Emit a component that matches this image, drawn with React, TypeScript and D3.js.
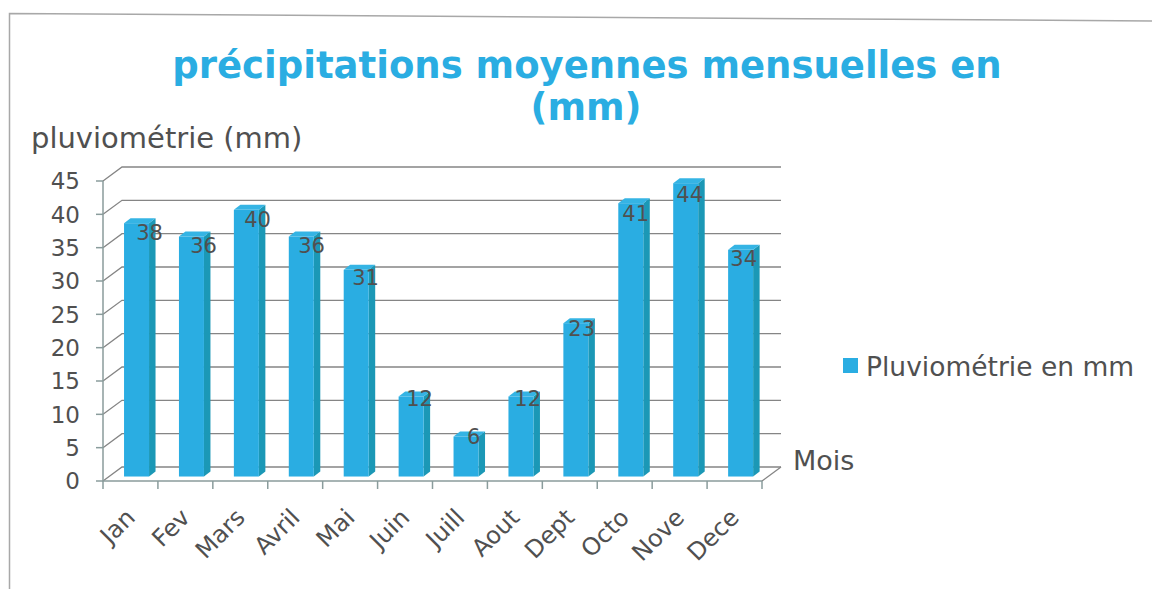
import React from "react";
import * as d3 from "d3";

const months = ["Jan", "Fev", "Mars", "Avril", "Mai", "Juin", "Juill", "Aout", "Dept", "Octo", "Nove", "Dece"];
const rainfall = [38, 36, 40, 36, 31, 12, 6, 12, 23, 41, 44, 34];
const yTicks = [0, 5, 10, 15, 20, 25, 30, 35, 40, 45];
const titleLines = ["précipitations moyennes mensuelles en", "(mm)"];
const yTitle = "pluviométrie (mm)";
const xTitle = "Mois";
const seriesName = "Pluviométrie en mm";

const W = 1152;
const H = 589;
const X0 = 103;
const X1 = 762;
const DX = 19;
const DY = -14;
const F0 = 0.32;
const BAR_W = 25;
const SDX = 6.5;
const SDY = -5;

const BLUE = "#2aade2";
const SIDE = "#1b98b6";
const TOP = "#35b4e4";
const TEXT = "#505050";
const GRID = "#858585";
const AXIS = "#8a9c9c";
const FONT = "'DejaVu Sans', Verdana, sans-serif";

export default function App() {
  const x = d3.scaleBand<string>().domain(months).range([X0, X1]).padding(0);
  const y = d3.scaleLinear().domain([0, 45]).range([481, 181]);
  const bw = x.bandwidth();

  return (
    <svg width={W} height={H} style={{ display: "block", position: "absolute", left: 0, top: 0, background: "#fff" }}>
      <rect x={0} y={0} width={W} height={H} fill="#fff" />
      {/* scanned border */}
      <path d={`M9.5,${H} L9.5,13.5 L${W},21`} fill="none" stroke="#a8a8a8" strokeWidth={1.5} />

      {/* title */}
      <g fill={BLUE} fontFamily={FONT} fontWeight="bold" fontSize={37} textAnchor="middle">
        <text x={587} y={78}>{titleLines[0]}</text>
        <text x={586} y={120}>{titleLines[1]}</text>
      </g>

      {/* y axis title */}
      <text x={31} y={148} fill={TEXT} fontFamily={FONT} fontSize={29}>{yTitle}</text>

      {/* back wall gridlines + side wall diagonals */}
      <g stroke={GRID} strokeWidth={1.3} fill="none">
        {yTicks.map((t) => (
          <path key={t} d={`M${X0},${y(t)} L${X0 + DX},${y(t) + DY} L${X1 + DX},${y(t) + DY}`} />
        ))}
        <path d={`M${X1},${y(0)} L${X1 + DX},${y(0) + DY}`} />
      </g>

      {/* axes */}
      <g stroke={AXIS} strokeWidth={1.5} fill="none">
        <path d={`M${X0},${y(45)} L${X0},${y(0)} L${X1},${y(0)}`} />
        {yTicks.map((t) => (
          <path key={t} d={`M${X0 - 7},${y(t)} L${X0},${y(t)}`} />
        ))}
        {[...months.map((m) => x(m) as number), X1].map((px, i) => (
          <path key={i} d={`M${px},${y(0)} L${px},${y(0) + 8}`} />
        ))}
      </g>

      {/* y tick labels */}
      <g fill={TEXT} fontFamily={FONT} fontSize={23} textAnchor="end">
        {yTicks.map((t) => (
          <text key={t} x={80} y={y(t)} dy="0.36em">{t}</text>
        ))}
      </g>

      {/* bars */}
      {months.map((m, i) => {
        const v = rainfall[i];
        const cx = (x(m) as number) + bw / 2 + F0 * DX;
        const x0 = cx - BAR_W / 2;
        const x1 = cx + BAR_W / 2;
        const yb = y(0) + F0 * DY;
        const yt = y(v) + F0 * DY;
        return (
          <g key={m}>
            <path d={`M${x1},${yt} L${x1 + SDX},${yt + SDY} L${x1 + SDX},${yb + SDY} L${x1},${yb} Z`} fill={SIDE} />
            <path d={`M${x0},${yt} L${x0 + SDX},${yt + SDY} L${x1 + SDX},${yt + SDY} L${x1},${yt} Z`} fill={TOP} />
            <rect x={x0} y={yt} width={BAR_W} height={yb - yt} fill={BLUE} />
          </g>
        );
      })}

      {/* data labels */}
      <g fill={TEXT} fontFamily={FONT} fontSize={21} textAnchor="middle">
        {months.map((m, i) => {
          const v = rainfall[i];
          const cx = (x(m) as number) + bw / 2 + F0 * DX + 13 - 0.9 * i;
          const yt = y(v) + F0 * DY;
          return (
            <text key={m} x={cx} y={yt + 0.3 * v - 2} dy="0.36em">{v}</text>
          );
        })}
      </g>

      {/* category labels */}
      <g fill={TEXT} fontFamily={FONT} fontSize={24} textAnchor="end">
        {months.map((m) => {
          const ax = (x(m) as number) + bw / 2 + 6;
          const ay = 519;
          return (
            <text key={m} x={ax} y={ay} transform={`rotate(-45 ${ax} ${ay})`}>{m}</text>
          );
        })}
      </g>

      {/* x axis title */}
      <text x={793} y={470} fill={TEXT} fontFamily={FONT} fontSize={27}>{xTitle}</text>

      {/* legend */}
      <rect x={843} y={358} width={15} height={15} fill={BLUE} />
      <text x={866} y={376} fill={TEXT} fontFamily={FONT} fontSize={26.5}>{seriesName}</text>
    </svg>
  );
}
